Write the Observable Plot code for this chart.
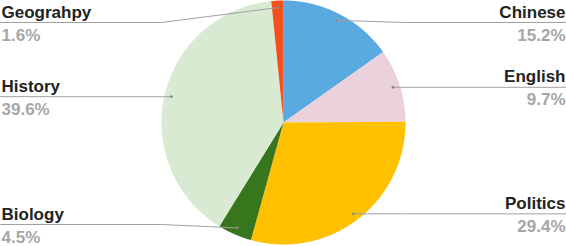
<!DOCTYPE html>
<html><head><meta charset="utf-8">
<script src="https://cdn.jsdelivr.net/npm/d3@7"></script>
<script src="https://cdn.jsdelivr.net/npm/@observablehq/plot@0.6"></script>
<style>html,body{margin:0;padding:0;background:#fff;} svg{display:block}</style>
</head><body><div id="chart"></div>
<script>
const categories = ["Chinese", "English", "Politics", "Biology", "History", "Geograhpy"];
const shares = [15.2, 9.7, 29.4, 4.5, 39.6, 1.6];
const shareLabels = ["15.2%", "9.7%", "29.4%", "4.5%", "39.6%", "1.6%"];
const palette = ["#5aaae2", "#ead1dc", "#ffc000", "#38761d", "#d9ead3", "#f4511e"];

const W = 566, H = 246, CX = 283, CY = 122, R = 122;
const ux = px => (px - CX) / R;
const uy = py => (CY - py) / R;

const arcs = d3.pie().sort(null).value(d => d)(shares);
const slices = [];
arcs.forEach((a, i) => {
  const n = Math.max(2, Math.ceil((a.endAngle - a.startAngle) / (Math.PI / 360)));
  slices.push({name: categories[i], x: 0, y: 0});
  for (let k = 0; k <= n; k++) {
    const t = a.startAngle + (a.endAngle - a.startAngle) * k / n;
    slices.push({name: categories[i], x: Math.sin(t), y: Math.cos(t)});
  }
});

const labels = arcs.map((a, i) => {
  const mid = (a.startAngle + a.endAngle) / 2;
  const ax = 0.943 * Math.sin(mid), ay = 0.943 * Math.cos(mid);
  const apy = CY - ay * R;
  const ly = uy(Math.max(22, Math.min(224, apy)));
  const right = mid < Math.PI;
  return {
    name: categories[i], pct: shareLabels[i], ax, ay, ly, right,
    edge: right ? ux(W) : ux(0), elbow: right ? 1 : -1,
    tx: right ? ux(565) : ux(1)
  };
});
const leaders = labels.flatMap(d => [
  {name: d.name, x: d.edge, y: d.ly},
  {name: d.name, x: d.elbow, y: d.ly},
  {name: d.name, x: d.ax, y: d.ay}
]);

const textCommon = {fontSize: 17, fontWeight: "bold"};
const chart = Plot.plot({
  width: W, height: H,
  margin: 0,
  style: {fontFamily: "'Liberation Sans', Arial, sans-serif", background: "#fff"},
  x: {domain: [ux(0), ux(W)], range: [0, W], axis: null},
  y: {domain: [uy(H), uy(0)], range: [H, 0], axis: null},
  color: {domain: categories, range: palette},
  marks: [
    Plot.line(slices, {x: "x", y: "y", z: "name", fill: "name", stroke: "none"}),
    Plot.line(leaders, {x: "x", y: "y", z: "name", stroke: "#a0a0a0", strokeWidth: 1}),
    Plot.dot(labels, {x: "ax", y: "ay", r: 1.4, fill: "#888", stroke: "none"}),
    Plot.text(labels, {filter: d => d.right, x: "tx", y: "ly", text: "name", textAnchor: "end", lineAnchor: "bottom", dy: -5, fill: "#222", ...textCommon}),
    Plot.text(labels, {filter: d => !d.right, x: "tx", y: "ly", text: "name", textAnchor: "start", lineAnchor: "bottom", dy: -5, fill: "#222", ...textCommon}),
    Plot.text(labels, {filter: d => d.right, x: "tx", y: "ly", text: "pct", textAnchor: "end", lineAnchor: "top", dy: 6, fill: "#a6a6a6", ...textCommon}),
    Plot.text(labels, {filter: d => !d.right, x: "tx", y: "ly", text: "pct", textAnchor: "start", lineAnchor: "top", dy: 6, fill: "#a6a6a6", ...textCommon})
  ]
});
document.getElementById("chart").appendChild(chart);
</script>
</body></html>
